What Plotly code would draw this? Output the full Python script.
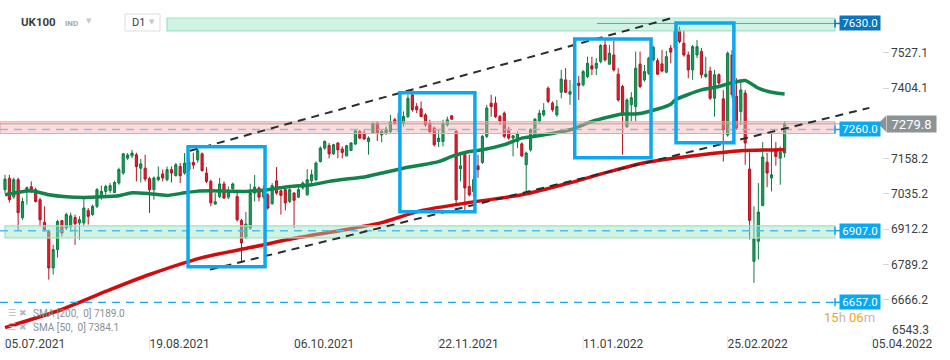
import pandas as pd
import plotly.graph_objects as go

# ---------------- data ----------------
holidays = ["2021-08-30", "2021-12-27", "2021-12-28", "2022-01-03"]
first_day = "2021-07-05"
last_day = "2022-03-16"

open_ = [7050,7090,7025,7085,6952,7044,7060,7050,7015,6936,
         6904,6777,6841,6942,6916,6921,6953,6934,6934,6977,
         6963,6992,7026,7044,7047,7040,7073,7108,7160,7168,
         7172,7125,7125,7088,7050,7085,7105,7085,7120,7099,
         7131,7108,7120,7145,7154,7175,7108,7079,7000,7026,
         7070,7024,7053,7026,6942,6882,6916,7038,7056,7025,
         7032,7001,7081,7046,7050,7009,7038,7024,7056,7032,
         7081,7085,7148,7195,7204,7175,7213,7192,7168,7187,
         7209,7253,7247,7218,7247,7282,7241,7247,7253,7294,
         7253,7282,7305,7381,7340,7332,7311,7282,7265,7218,
         7218,7276,7308,7253,7123,7172,7061,7043,7133,7145,
         7236,7352,7352,7305,7317,7261,7230,7218,7210,7137,
         7189,7236,7288,7311,7404,7352,7311,7390,7433,7383,
         7391,7422,7416,7445,7482,7474,7497,7555,7488,7520,
         7453,7410,7270,7346,7340,7488,7433,7456,7503,7500,
         7489,7460,7544,7545,7607,7561,7520,7468,7520,7532,
         7445,7464,7369,7451,7367,7241,7520,7375,7323,7387,
         7122,6800,6870,6995,7146,7091,7192,7160,7178]

high = [7102,7102,7092,7092,7022,7061,7079,7057,7022,6992,
        6910,6858,6945,6945,6970,6970,6963,6957,7026,6986,
        6998,7056,7064,7067,7073,7081,7127,7178,7178,7189,
        7179,7157,7172,7095,7096,7131,7120,7131,7131,7143,
        7143,7178,7161,7179,7193,7180,7129,7085,7038,7091,
        7079,7061,7075,7044,6948,6972,7071,7102,7061,7064,
        7038,7073,7129,7050,7056,7056,7042,7061,7079,7122,
        7120,7148,7201,7222,7213,7210,7215,7201,7207,7216,
        7261,7259,7259,7236,7284,7288,7261,7270,7311,7300,
        7322,7323,7381,7384,7352,7358,7317,7294,7270,7259,
        7294,7305,7310,7259,7172,7178,7172,7099,7172,7241,
        7346,7381,7375,7311,7323,7270,7241,7253,7215,7183,
        7265,7300,7329,7352,7410,7358,7363,7468,7474,7433,
        7433,7447,7468,7514,7514,7509,7558,7572,7555,7569,
        7474,7416,7369,7390,7532,7532,7485,7514,7553,7509,
        7538,7534,7555,7625,7619,7607,7532,7555,7572,7544,
        7514,7479,7468,7456,7398,7532,7538,7439,7433,7398,
        7180,6992,7073,7216,7178,7245,7216,7201,7288]

low = [7039,7005,7018,6910,6945,6998,7038,7005,6922,6904,
       6736,6754,6813,6887,6910,6903,6858,6876,6922,6928,
       6959,6986,7015,7032,7038,7039,7067,7102,7154,7160,
       7079,7075,7079,6969,7015,7079,7079,7079,7075,7096,
       7073,7102,7112,7122,7144,7113,7073,6992,6998,7021,
       7018,7017,7050,6939,6794,6878,6910,7009,7009,7018,
       6980,6998,7032,6963,6978,7003,6916,7021,7050,7029,
       7073,7079,7145,7189,7159,7171,7160,7159,7166,7185,
       7207,7226,7224,7172,7245,7220,7215,7241,7247,7276,
       7248,7270,7300,7322,7317,7303,7270,7247,7201,7199,
       7201,7270,7294,6992,7079,6969,7026,7025,7091,7140,
       7230,7305,7300,7276,7230,7224,7166,7195,7164,7044,
       7183,7230,7282,7305,7352,7322,7305,7369,7387,7346,
       7377,7363,7410,7439,7450,7450,7491,7497,7485,7462,
       7357,7172,7265,7288,7288,7404,7427,7450,7497,7450,
       7460,7456,7491,7538,7561,7514,7439,7433,7509,7439,
       7439,7363,7305,7416,7148,7235,7370,7259,7276,7137,
       6876,6725,6806,6992,7059,7044,7134,7067,7162]

close = [7087,7015,7085,6970,7009,7057,7050,7009,6945,6910,
         6777,6841,6939,6899,6963,6959,6931,6945,6986,6957,
         6992,7050,7044,7061,7064,7075,7120,7175,7171,7178,
         7131,7140,7087,7050,7091,7094,7091,7120,7108,7137,
         7099,7143,7147,7136,7186,7117,7079,7004,7008,7070,
         7021,7046,7070,6945,6864,6930,7038,7059,7024,7050,
         6986,7064,7038,7030,7004,7050,7013,7050,7073,7085,
         7102,7143,7195,7218,7175,7207,7189,7180,7203,7213,
         7256,7230,7227,7230,7282,7247,7253,7261,7288,7282,
         7317,7305,7369,7329,7329,7305,7276,7253,7207,7230,
         7282,7294,7296,7015,7133,7056,7032,7085,7120,7236,
         7335,7340,7305,7288,7236,7230,7238,7245,7168,7178,
         7259,7296,7317,7326,7358,7329,7340,7436,7390,7392,
         7419,7413,7462,7491,7471,7491,7553,7503,7526,7468,
         7363,7311,7363,7371,7474,7410,7462,7509,7547,7453,
         7464,7514,7530,7607,7567,7520,7468,7549,7549,7451,
         7453,7369,7451,7422,7259,7526,7381,7265,7398,7213,
         6943,6878,6972,7164,7108,7102,7166,7180,7279.8]

# moving averages (candle position, value)
sma50_pos = [0,6,10,14,18,22,26,29,33,37,41,44,47,55,60,65,70,74,78,82,86,91,99,102,106,
             109,114,118,121,129,134,141,144,147,152,153,159,163,165,169,172,175,178]
sma50_val = [7032,7046,7032,7025,7023,7025,7029,7039,7036,7030,7039,7045,7046,7044,7050,7061,
             7067,7079,7087,7094,7108,7125,7148,7166,7183,7189,7207,7230,7236,7259,7288,7314,
             7314,7323,7348,7363,7398,7410,7419,7431,7404,7390,7384]
sma200_pos = [0,13,24,33,45,56,67,79,86,95,106,118,129,138,146,159,168,178]
sma200_val = [6569,6632,6701,6754,6813,6848,6883,6914,6935,6977,7005,7032,7074,7113,7144,
              7172,7186,7189]

# support / resistance levels
lvl_top, lvl_mid, lvl_low, lvl_bottom = 7630.0, 7260.0, 6907.0, 6657.0
last_price = 7279.8
zone_top = (7604, 7649)
zone_mid = (7246, 7287)
zone_low = (6882, 6924)

# highlighted boxes: (start, end, low, high)
boxes = [("2021-09-01 19:00", "2021-09-27 09:00", 6781.5, 7199.6),
         ("2021-11-09 04:00", "2021-12-02 07:00", 6973.1, 7387.8),
         ("2022-01-07 02:00", "2022-02-01 12:00", 7161.3, 7575.9),
         ("2022-02-09 05:00", "2022-02-28 10:00", 7213.5, 7631.7)]
# channel trend lines: (x0, y0, x1, y1)
trend_lines = [("2021-09-02 05:00", 7185.6, "2022-02-08 07:00", 7649.0),
               ("2021-09-08 19:00", 6771.0, "2022-04-04 08:00", 7335.5)]

x_tick_vals = ["2021-07-05", "2021-08-19", "2021-10-06", "2021-11-22",
               "2022-01-11", "2022-02-25", "2022-04-05"]
x_tick_text = ["05.07.2021", "19.08.2021", "06.10.2021", "22.11.2021",
               "11.01.2022", "25.02.2022", "05.04.2022"]
y_tick_vals = [7527.1, 7404.1, 7158.2, 7035.2, 6912.2, 6789.2, 6666.2]
y_bottom_label = 6543.3

# ---------------- build ----------------
all_bd = pd.bdate_range(first_day, last_day)
dates = [d for d in all_bd if d.strftime("%Y-%m-%d") not in holidays]
assert len(dates) == len(open_) == len(high) == len(low) == len(close)

breaks = [d.strftime("%Y-%m-%d") for d in pd.date_range("2021-07-03", last_day)
          if d.weekday() >= 5] + holidays

W, H = 950, 360
PB = 25
PH = H - PB


def px(xp):
    return xp / W


def py(yp):
    return 1 - yp / PH


GREEN, GREEN_LINE = "#1f9a5c", "#0d7a41"
RED, RED_LINE = "#e21f2f", "#b5121f"

fig = go.Figure()
fig.add_trace(go.Candlestick(
    x=dates, open=open_, high=high, low=low, close=close,
    increasing=dict(fillcolor=GREEN, line=dict(color=GREEN_LINE, width=1)),
    decreasing=dict(fillcolor=RED, line=dict(color=RED_LINE, width=1)),
    whiskerwidth=0, showlegend=False, hoverinfo="skip"))

fig.add_trace(go.Scatter(
    x=[dates[i] for i in sma200_pos], y=sma200_val, mode="lines",
    line=dict(color="#d20c0c", width=3.5, shape="spline", smoothing=0.6),
    showlegend=False, hoverinfo="skip"))
fig.add_trace(go.Scatter(
    x=[dates[i] for i in sma50_pos], y=sma50_val, mode="lines",
    line=dict(color="#13834c", width=3.5, shape="spline", smoothing=0.6),
    showlegend=False, hoverinfo="skip"))

shapes = []
ZR = px(835)
# zones
shapes.append(dict(type="rect", xref="paper", yref="y", x0=px(167), x1=ZR,
                   y0=zone_top[0], y1=zone_top[1], fillcolor="rgba(150,228,196,0.45)",
                   line=dict(color="#9fe2c8", width=1.2), layer="above"))
shapes.append(dict(type="rect", xref="paper", yref="y", x0=0, x1=ZR,
                   y0=zone_mid[0], y1=zone_mid[1], fillcolor="rgba(248,170,170,0.42)",
                   line=dict(color="#f2a4a4", width=1.2), layer="above"))
shapes.append(dict(type="rect", xref="paper", yref="y", x0=px(5), x1=ZR,
                   y0=zone_low[0], y1=zone_low[1], fillcolor="rgba(150,228,196,0.45)",
                   line=dict(color="#9fe2c8", width=1.2), layer="above"))
# level lines
shapes.append(dict(type="line", xref="paper", yref="y", x0=px(597), x1=ZR,
                   y0=lvl_top, y1=lvl_top, line=dict(color="#4aa6d2", width=1), layer="above"))
shapes.append(dict(type="line", xref="paper", yref="y", x0=0, x1=ZR,
                   y0=lvl_mid, y1=lvl_mid, line=dict(color="#9db8d8", width=1.5, dash="8px,6px"),
                   layer="above"))
shapes.append(dict(type="line", xref="paper", yref="y", x0=0, x1=ZR,
                   y0=lvl_low, y1=lvl_low, line=dict(color="#52bde9", width=1.5, dash="8px,6px"),
                   layer="above"))
shapes.append(dict(type="line", xref="paper", yref="y", x0=0, x1=ZR,
                   y0=lvl_bottom, y1=lvl_bottom, line=dict(color="#1fa6e8", width=1.2, dash="8px,6px"),
                   layer="above"))
shapes.append(dict(type="line", xref="paper", yref="y", x0=0, x1=px(879),
                   y0=last_price, y1=last_price, line=dict(color="#a3a8ab", width=1),
                   layer="above"))
# connectors to level labels
for lv, col in [(lvl_top, "#0a75bd"), (lvl_mid, "#0aa7f2"), (lvl_low, "#0aa7f2"), (lvl_bottom, "#0aa7f2")]:
    shapes.append(dict(type="line", xref="paper", yref="y", x0=ZR, x1=px(840),
                       y0=lv, y1=lv, line=dict(color=col, width=1.5), layer="above"))
    shapes.append(dict(type="line", xref="paper", yref="y", x0=ZR, x1=ZR,
                       y0=lv - 14, y1=lv + 14, line=dict(color=col, width=1.5), layer="above"))
# channel lines
for x0, y0, x1, y1 in trend_lines:
    shapes.append(dict(type="line", xref="x", yref="y", x0=x0, y0=y0, x1=x1, y1=y1,
                       line=dict(color="#2a2d30", width=2, dash="8px,6px"), layer="above"))
# blue boxes
for x0, x1, y0, y1 in boxes:
    shapes.append(dict(type="rect", xref="x", yref="y", x0=x0, x1=x1, y0=y0, y1=y1,
                       line=dict(color="#0ca7ef", width=3.5), fillcolor="rgba(0,0,0,0)",
                       layer="above"))
# last price pointer
shapes.append(dict(type="path", xref="paper", yref="y",
                   path=f"M {px(878)},{last_price} L {px(886)},{last_price + 28} "
                        f"L {px(886)},{last_price - 28} Z",
                   fillcolor="#8b9397", line=dict(width=0), layer="above"))
# D1 box
shapes.append(dict(type="rect", xref="paper", yref="paper", x0=px(125), x1=px(160),
                   y0=py(31), y1=py(14), line=dict(color="#dddddd", width=1),
                   fillcolor="white", layer="above"))
# faint date tick marks at label starts
for tv in x_tick_vals:
    shapes.append(dict(type="line", xref="x", yref="paper", x0=tv, x1=tv,
                       y0=py(336), y1=py(350), line=dict(color="#e4e4e4", width=1),
                       layer="above"))

ann = []
FONT = "Roboto"
for lv, col in [(lvl_top, "#0a75bd"), (lvl_mid, "#0aa7f2"), (lvl_low, "#0aa7f2"), (lvl_bottom, "#0aa7f2")]:
    ann.append(dict(xref="paper", yref="y", x=px(860), y=lv, text=f"{lv:.1f}",
                    showarrow=False, bgcolor=col, font=dict(color="white", size=11.5, family=FONT),
                    width=38, height=12, borderpad=1, xanchor="center", yanchor="middle"))
ann.append(dict(xref="paper", yref="y", x=px(911), y=last_price, text=f"{last_price:.1f}",
                showarrow=False, bgcolor="#8b9397", font=dict(color="white", size=13, family=FONT),
                width=47, height=14, borderpad=1, xanchor="center", yanchor="middle"))
# bottom price-scale label (drawn slightly above the axis edge, as in the reference)
ann.append(dict(xref="paper", yref="paper", x=px(890), y=py(330), text=f"{y_bottom_label:.1f}",
                showarrow=False, xanchor="left", yanchor="middle",
                font=dict(size=12, color="#3a3f44", family=FONT)))
# header
ann.append(dict(xref="paper", yref="paper", x=px(19), y=py(22), text="<b>UK100</b>",
                showarrow=False, xanchor="left", yanchor="middle",
                font=dict(size=11.5, color="#3a3f44", family=FONT)))
ann.append(dict(xref="paper", yref="paper", x=px(63), y=py(23), text="<b>IND</b>",
                showarrow=False, xanchor="left", yanchor="middle",
                font=dict(size=8, color="#a3a9b0", family=FONT)))
ann.append(dict(xref="paper", yref="paper", x=px(89), y=py(21), text="▼",
                showarrow=False, xanchor="center", yanchor="middle",
                font=dict(size=7, color="#c4c8cc", family="DejaVu Sans")))
ann.append(dict(xref="paper", yref="paper", x=px(130), y=py(22.5), text="D1",
                showarrow=False, xanchor="left", yanchor="middle",
                font=dict(size=11, color="#3a3f44", family=FONT)))
ann.append(dict(xref="paper", yref="paper", x=px(152), y=py(22), text="▼",
                showarrow=False, xanchor="center", yanchor="middle",
                font=dict(size=7, color="#c4c8cc", family="DejaVu Sans")))
# indicator legend
for yy, label in [(313, "SMA [200,  0] 7189.0"), (327, "SMA [50,  0] 7384.1")]:
    ann.append(dict(xref="paper", yref="paper", x=px(6), y=py(yy), text="☰ ✖",
                    showarrow=False, xanchor="left", yanchor="middle",
                    font=dict(size=9, color="#b5b9bd", family="DejaVu Sans")))
    ann.append(dict(xref="paper", yref="paper", x=px(31), y=py(yy), text=label,
                    showarrow=False, xanchor="left", yanchor="middle",
                    font=dict(size=10, color="#8a8f94", family=FONT)))
# candle countdown
ann.append(dict(xref="paper", yref="paper", x=px(822), y=py(317),
                text="<span style='color:#f7a21b'>15</span><span style='color:#b8bcc0'>h </span>"
                     "<span style='color:#f7a21b'>06</span><span style='color:#b8bcc0'>m</span>",
                showarrow=False, xanchor="left", yanchor="middle", font=dict(size=13, family=FONT)))

fig.update_layout(
    width=W, height=H, margin=dict(l=0, r=0, t=0, b=PB, pad=0),
    paper_bgcolor="white", plot_bgcolor="white",
    font=dict(family=FONT, color="#333"),
    shapes=shapes, annotations=ann, showlegend=False,
    xaxis=dict(type="date", range=["2021-07-01 20:38", "2022-04-22 18:15"],
               rangebreaks=[dict(values=breaks)],
               tickvals=x_tick_vals, ticktext=x_tick_text, ticklabelshift=30,
               tickfont=dict(size=12, color="#3a3f44", family=FONT),
               showgrid=False, zeroline=False, showline=False, ticks="",
               rangeslider=dict(visible=False), automargin=False, fixedrange=True),
    yaxis=dict(range=[6543.0, 7711.8], anchor="free", position=0.928, side="right",
               tickvals=y_tick_vals, ticktext=[f"{v:.1f}" for v in y_tick_vals],
               ticks="outside", ticklen=6, tickcolor="#d6d6d6",
               tickfont=dict(size=12, color="#3a3f44", family=FONT),
               showgrid=False, zeroline=False, showline=False, automargin=False,
               fixedrange=True),
)

fig.write_html("out.html", config={"displayModeBar": False},
               post_script="document.body.style.margin='0';document.body.style.padding='0';")
